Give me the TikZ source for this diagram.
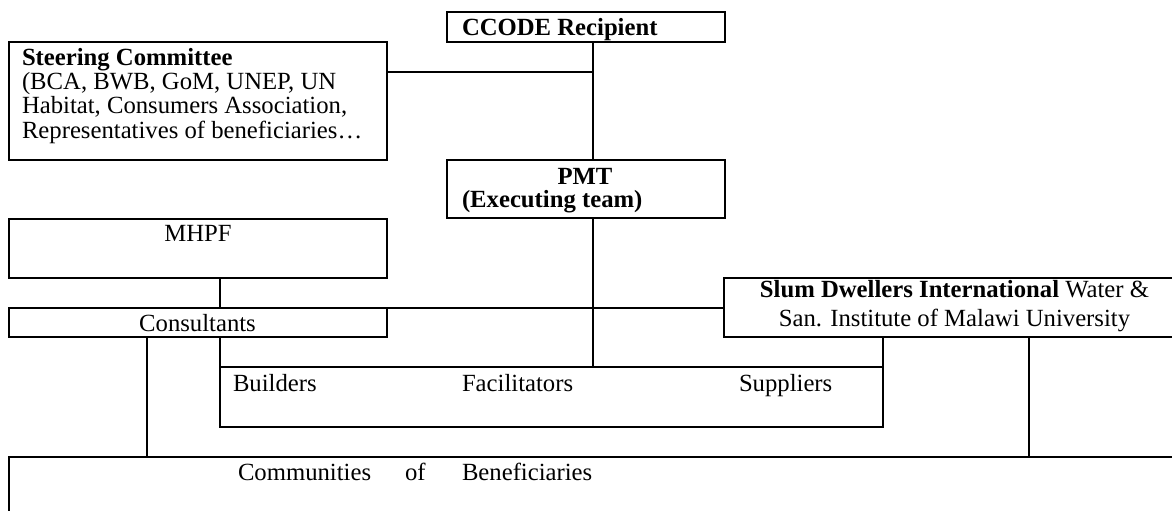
\documentclass[tikz,border=0pt]{standalone}
\usepackage{fontspec}
\setmainfont{Liberation Serif}
\usetikzlibrary{fit}
\begin{document}
\begin{tikzpicture}[x=0.5pt,y=-0.5pt,
  box/.style={draw, line width=0.75pt, inner sep=0pt, outer sep=0pt},
  wire/.style={line width=0.55pt},
  thickwire/.style={line width=1pt},
  txt/.style={inner sep=0pt, outer sep=0pt, font=\fontsize{12.35}{12.15}\selectfont},
  tl/.style={txt, anchor=base west},
  tc/.style={txt, anchor=base},
]
\useasboundingbox (0,0) rectangle (1172,510);
\clip (0,0) rectangle (1172,510);
% boxes
\node[box, fit={(447,12) (725,42)}] (ccode) {};
\node[box, fit={(9,42) (387,160)}] (steer) {};
\node[box, fit={(447,160) (725,218)}] (pmt) {};
\node[box, fit={(9,219) (387,278)}] (mhpf) {};
\node[box, fit={(9,308) (387,337)}] (cons) {};
\node[box, fit={(724,278) (1185,337)}] (slum) {};
\node[box, line width=1pt, fit={(220,367) (883,427)}] (build) {};
\node[box, fit={(9,457) (1185,525)}] (comm) {};
% junction coordinates
\coordinate (j1) at (593,72);
\coordinate (j2) at (220,0);
\coordinate (j3) at (147,0);
\coordinate (j4) at (1029,0);
% connectors
\draw[wire] (j1 -| steer.east) -- (j1);
\draw[wire] (ccode.south -| j1) -- (pmt.north -| j1);
\draw[wire] (pmt.south -| j1) -- (build.north -| j1);
\draw[wire] (mhpf.south -| j2) -- (cons.north -| j2);
\draw[wire] (cons.north east) -- (cons.north east -| slum.west);
\draw[thickwire] (cons.south -| build.west) -- (build.north west);
\draw[wire] (cons.south -| j3) -- (comm.north -| j3);
\draw[wire] (slum.south -| build.east) -- (build.north east);
\draw[wire] (slum.south -| j4) -- (comm.north -| j4);
% texts
\node[tl] (tccode) at (462,35) {\bfseries CCODE Recipient};
\node[tl] (ts1) at (22,65.5) {\bfseries Steering Committee};
\node[tl] (ts2) at (22,89.5) {(BCA, BWB, GoM, UNEP, UN};
\node[tl] (ts3) at (22,113.5) {Habitat, Consumers Association,};
\node[tl] (ts4) at (22,138) {Representatives of beneficiaries…};
\node[tc] (tpmt1) at (585,184) {\bfseries PMT};
\node[tl] (tpmt2) at (462,207) {\bfseries (Executing team)};
\node[tc] (tmhpf) at (198,241) {MHPF};
\node[tc] (tcons) at (197.5,331) {Consultants};
\node[tc] (tslum1) at (954.5,297) {{\bfseries Slum Dwellers International} Water \&};
\node[tc] (tslum2) at (954.5,326) {San. Institute of Malawi University};
\node[tl] (tbuild) at (233,391) {Builders};
\node[tl] (tfac) at (462,391) {Facilitators};
\node[tl] (tsup) at (739,391) {Suppliers};
\node[tl] (tcom1) at (238,480) {Communities};
\node[tl] (tcom2) at (405,480) {of};
\node[tl] (tcom3) at (462,480) {Beneficiaries};
\end{tikzpicture}
\end{document}
